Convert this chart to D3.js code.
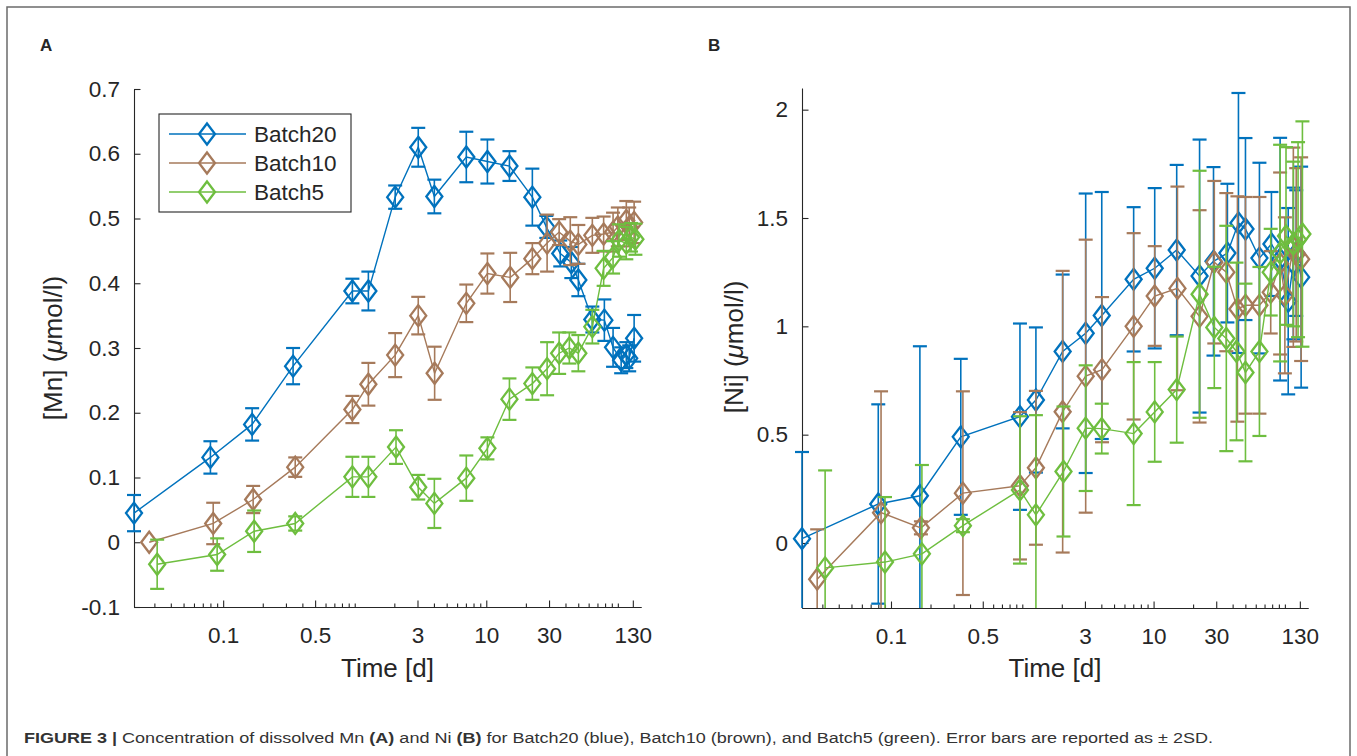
<!DOCTYPE html>
<html><head><meta charset="utf-8">
<script src="https://cdn.jsdelivr.net/npm/d3@7"></script>
<style>
body{margin:0;background:#fff}
text{font-family:"Liberation Sans",Arial,Helvetica,sans-serif;fill:#262626}
</style>
</head><body>
<svg id="c" width="1357" height="756"></svg>
<script>
// ---------- DATA ----------
const seriesNames = ["Batch20", "Batch10", "Batch5"];
const xTickValues = [0.1, 0.5, 3, 10, 30, 130];
const xTickLabels = ["0.1", "0.5", "3", "10", "30", "130"];
const mnTickValues = [-0.1, 0, 0.1, 0.2, 0.3, 0.4, 0.5, 0.6, 0.7];
const mnTickLabels = ["-0.1", "0", "0.1", "0.2", "0.3", "0.4", "0.5", "0.6", "0.7"];
const niTickValues = [0, 0.5, 1, 1.5, 2];
const niTickLabels = ["0", "0.5", "1", "1.5", "2"];

// sampling times [d]
const timeBatch20 = [0.021, 0.08, 0.166, 0.34, 0.96, 1.27, 2.03, 3.04, 4.03, 7.05, 10.2, 15, 22.4, 28.6, 36.5, 44.3, 50.1, 64, 79, 92, 106, 116, 122, 133];
const timeBatch10 = [0.0274, 0.084, 0.169, 0.353, 0.96, 1.27, 2.03, 3.04, 4.05, 7.05, 10.2, 15.2, 22.4, 29, 35.8, 43.5, 50.1, 64, 78, 92, 100, 116, 122, 133];
const timeBatch5  = [0.0315, 0.09, 0.172, 0.353, 0.96, 1.27, 2.06, 3.04, 4.03, 7.05, 10.2, 15, 22.4, 29, 35.8, 42.8, 50.1, 64, 78, 92, 102, 116, 126, 136];

// Mn (panel A)
const mnBatch20 = [0.045, 0.131, 0.182, 0.272, 0.388, 0.388, 0.533, 0.61, 0.534, 0.595, 0.588, 0.581, 0.533, 0.487, 0.446, 0.432, 0.405, 0.344, 0.343, 0.301, 0.281, 0.289, 0.284, 0.315];
const mnBatch20Err = [0.028, 0.025, 0.025, 0.028, 0.019, 0.03, 0.018, 0.03, 0.026, 0.039, 0.034, 0.023, 0.044, 0.017, 0.02, 0.024, 0.025, 0.02, 0.032, 0.03, 0.02, 0.02, 0.02, 0.036];
const mnBatch10 = [0.0, 0.029, 0.066, 0.116, 0.205, 0.244, 0.289, 0.35, 0.261, 0.369, 0.415, 0.409, 0.438, 0.462, 0.479, 0.465, 0.46, 0.474, 0.476, 0.479, 0.487, 0.497, 0.487, 0.494];
const mnBatch10Err = [0.0, 0.032, 0.021, 0.015, 0.021, 0.033, 0.034, 0.029, 0.041, 0.029, 0.031, 0.038, 0.024, 0.044, 0.02, 0.037, 0.03, 0.027, 0.027, 0.03, 0.03, 0.03, 0.03, 0.032];
const mnBatch5 = [-0.034, -0.019, 0.017, 0.029, 0.101, 0.101, 0.147, 0.085, 0.06, 0.099, 0.145, 0.221, 0.245, 0.268, 0.292, 0.3, 0.292, 0.333, 0.423, 0.44, 0.466, 0.462, 0.471, 0.468];
const mnBatch5Err = [0.038, 0.025, 0.032, 0.011, 0.031, 0.031, 0.026, 0.019, 0.038, 0.035, 0.017, 0.032, 0.025, 0.041, 0.032, 0.024, 0.028, 0.026, 0.027, 0.025, 0.025, 0.025, 0.022, 0.024];

// Ni (panel B)
const niBatch20 = [0.02, 0.18, 0.218, 0.49, 0.583, 0.66, 0.884, 0.968, 1.05, 1.217, 1.268, 1.352, 1.232, 1.30, 1.338, 1.477, 1.449, 1.315, 1.38, 1.31, 1.116, 1.29, 1.338, 1.227];
const niBatch20Err = [0.40, 0.46, 0.69, 0.36, 0.43, 0.335, 0.355, 0.645, 0.57, 0.333, 0.37, 0.393, 0.63, 0.435, 0.32, 0.6, 0.42, 0.44, 0.24, 0.56, 0.43, 0.35, 0.29, 0.51];
const niBatch10 = [-0.167, 0.14, 0.07, 0.23, 0.264, 0.347, 0.606, 0.77, 0.80, 1.0, 1.14, 1.175, 1.046, 1.296, 1.25, 1.08, 1.097, 1.097, 1.157, 1.29, 1.143, 1.365, 1.33, 1.31];
const niBatch10Err = [0.23, 0.56, 0.03, 0.47, 0.34, 0.355, 0.65, 0.63, 0.335, 0.43, 0.23, 0.47, 0.49, 0.375, 0.365, 0.52, 0.5, 0.5, 0.19, 0.42, 0.36, 0.46, 0.4, 0.47];
const niBatch5 = [-0.115, -0.088, -0.05, 0.08, 0.245, 0.13, 0.33, 0.53, 0.528, 0.505, 0.605, 0.708, 1.148, 0.995, 0.944, 0.884, 0.787, 0.884, 1.25, 1.338, 1.417, 1.38, 1.40, 1.426];
const niBatch5Err = [0.45, 0.30, 0.41, 0.03, 0.34, 0.46, 0.3, 0.29, 0.115, 0.33, 0.23, 0.245, 0.57, 0.28, 0.52, 0.41, 0.41, 0.39, 0.2, 0.5, 0.41, 0.38, 0.45, 0.52];

// ---------- STYLE ----------
const colors = ["#0072BD", "#A67A5B", "#6EBE3F"];
const axisColor = "#262626";
const FS = 22.5;

const svg = d3.select("#c");

// outer frame
svg.append("rect").attr("x", 7).attr("y", 7).attr("width", 1343).attr("height", 780)
  .attr("fill", "none").attr("stroke", "#6b6b6b").attr("stroke-width", 1.5);

const diamond = "M0,-10.5L8,0L0,10.5L-8,0Z";

function panel(opt) {
  const g = svg.append("g");
  const x = d3.scaleLog().domain([0.021, 150]).range(opt.xr);
  const y = d3.scaleLinear().domain(opt.yd).range(opt.yr);

  const clipId = "clip" + opt.id;
  svg.append("clipPath").attr("id", clipId).append("rect")
    .attr("x", opt.xr[0] - 30).attr("y", opt.yr[1]).attr("width", opt.xr[1] - opt.xr[0] + 60)
    .attr("height", opt.yr[0] - opt.yr[1]);

  // minor x ticks
  const minor = [];
  for (let k = -2; k <= 2; k++) for (let m = 1; m <= 9; m++) {
    const v = +(m * Math.pow(10, k)).toPrecision(6);
    if (v >= 0.021 && v <= 150 && !xTickValues.includes(v)) minor.push(v);
  }
  const gxm = g.append("g").attr("transform", `translate(0,${opt.yr[0]})`)
    .call(d3.axisBottom(x).tickValues(minor).tickSizeInner(-3.5).tickSizeOuter(0).tickFormat(""));
  const gx = g.append("g").attr("transform", `translate(0,${opt.yr[0]})`)
    .call(d3.axisBottom(x).tickValues(xTickValues).tickSizeInner(-6.5).tickSizeOuter(0)
      .tickFormat((d, i) => xTickLabels[i]));
  gx.selectAll("text").attr("y", 36).attr("dy", null).style("font-size", FS + "px").attr("fill", axisColor);
  const gy = g.append("g").attr("transform", `translate(${opt.xr[0]},0)`)
    .call(d3.axisLeft(y).tickValues(opt.yt).tickSizeInner(-6.5).tickSizeOuter(0).tickPadding(14)
      .tickFormat((d, i) => opt.ytl[i]));
  gy.selectAll("text").style("font-size", FS + "px").attr("fill", axisColor);
  [gxm, gx, gy].forEach(a => {
    a.selectAll("path,line").attr("stroke", axisColor).attr("stroke-width", 1.1);
  });

  // axis titles
  g.append("text").attr("x", (opt.xr[0] + opt.xr[1]) / 2).attr("y", 677)
    .attr("text-anchor", "middle").style("font-size", "26px").text("Time [d]");
  const yl = g.append("text").attr("transform", `translate(${opt.ylx},${opt.yly}) rotate(-90)`)
    .attr("text-anchor", "middle").style("font-size", "26px");
  yl.append("tspan").text(opt.ylab + " (");
  yl.append("tspan").style("font-style", "italic").text("\u03BC");
  yl.append("tspan").text("mol/l)");

  // panel letter
  svg.append("text").attr("x", opt.letterX).attr("y", 51).style("font-size", "17px")
    .style("font-weight", "bold").attr("fill", "#000").text(opt.letter);

  // series
  opt.series.forEach((s, si) => {
    const col = colors[si];
    const pts = s.t.map((t, i) => ({ t, v: s.v[i], e: s.e[i] }));
    const sg = g.append("g");
    const lg = sg.append("g").attr("clip-path", `url(#${clipId})`);
    lg.append("path").datum(pts)
      .attr("d", d3.line().x(d => x(d.t)).y(d => y(d.v)))
      .attr("fill", "none").attr("stroke", col).attr("stroke-width", 1.4);
    const eb = lg.selectAll("g.eb").data(pts).join("g");
    eb.append("line").attr("x1", d => x(d.t)).attr("x2", d => x(d.t))
      .attr("y1", d => y(d.v - d.e)).attr("y2", d => y(d.v + d.e))
      .attr("stroke", col).attr("stroke-width", 1.6);
    [-1, 1].forEach(sgn => {
      eb.filter(d => d.e > 0).append("line")
        .attr("x1", d => x(d.t) - 7).attr("x2", d => x(d.t) + 7)
        .attr("y1", d => y(d.v + sgn * d.e)).attr("y2", d => y(d.v + sgn * d.e))
        .attr("stroke", col).attr("stroke-width", 2.2);
    });
    sg.selectAll("path.mk").data(pts).join("path").attr("class", "mk")
      .attr("d", diamond).attr("transform", d => `translate(${x(d.t)},${y(d.v)})`)
      .attr("fill", "none").attr("stroke", col).attr("stroke-width", 2.3);
  });
  return { g, x, y };
}

panel({
  id: "A", letter: "A", letterX: 40,
  xr: [134, 641], yd: [-0.1, 0.7], yr: [607, 89],
  yt: mnTickValues, ytl: mnTickLabels,
  ylab: "[Mn]", ylx: 62, yly: 348,
  series: [
    { t: timeBatch20, v: mnBatch20, e: mnBatch20Err },
    { t: timeBatch10, v: mnBatch10, e: mnBatch10Err },
    { t: timeBatch5, v: mnBatch5, e: mnBatch5Err }
  ]
});

panel({
  id: "B", letter: "B", letterX: 708,
  xr: [802, 1308], yd: [-0.3, 2.1], yr: [608, 88],
  yt: niTickValues, ytl: niTickLabels,
  ylab: "[Ni]", ylx: 743, yly: 347,
  series: [
    { t: timeBatch20, v: niBatch20, e: niBatch20Err },
    { t: timeBatch10, v: niBatch10, e: niBatch10Err },
    { t: timeBatch5, v: niBatch5, e: niBatch5Err }
  ]
});

// legend (panel A)
const lg = svg.append("g");
lg.append("rect").attr("x", 159).attr("y", 114).attr("width", 192).attr("height", 98)
  .attr("fill", "#fff").attr("stroke", axisColor).attr("stroke-width", 1.1);
seriesNames.forEach((name, i) => {
  const yy = 134 + i * 29;
  lg.append("line").attr("x1", 169).attr("x2", 246).attr("y1", yy).attr("y2", yy)
    .attr("stroke", colors[i]).attr("stroke-width", 1.4);
  lg.append("path").attr("d", diamond).attr("transform", `translate(207,${yy})`)
    .attr("fill", "none").attr("stroke", colors[i]).attr("stroke-width", 2.3);
  lg.append("text").attr("x", 254).attr("y", yy + 8).style("font-size", FS + "px").text(name);
});

// caption
const cap = svg.append("text").attr("x", 24).attr("y", 743)
  .style("font-family", "'Liberation Sans Narrow','Liberation Sans',Arial,sans-serif")
  .style("font-size", "15.5px").attr("textLength", 1189).attr("lengthAdjust", "spacingAndGlyphs");
const capParts = [
  ["FIGURE 3 |", true], [" Concentration of dissolved Mn ", false], ["(A)", true],
  [" and Ni ", false], ["(B)", true],
  [" for Batch20 (blue), Batch10 (brown), and Batch5 (green). Error bars are reported as \u00B1 2SD.", false]
];
capParts.forEach(([t, b]) => cap.append("tspan").style("font-weight", b ? "bold" : "normal")
  .attr("fill", "#333").text(t));
</script>
</body></html>
